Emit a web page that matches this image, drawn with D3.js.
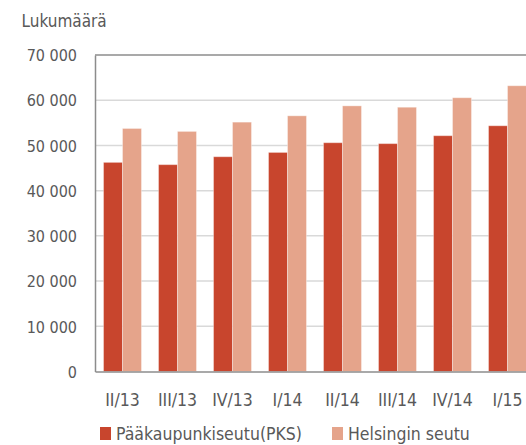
<!DOCTYPE html>
<html>
<head>
<meta charset="utf-8">
<script src="https://cdn.jsdelivr.net/npm/d3@7"></script>
<style>
  body { margin: 0; background: #fff; }
  svg text { font-family: "DejaVu Sans Condensed", "DejaVu Sans", sans-serif; font-stretch: condensed; fill: #595959; }
</style>
</head>
<body>
<div id="chart"></div>
<script>
// data
var quarters = ["II/13", "III/13", "IV/13", "I/14", "II/14", "III/14", "IV/14", "I/15"];
var seriesNames = ["Pääkaupunkiseutu(PKS)", "Helsingin seutu"];
var pks = [46250, 45750, 47500, 48450, 50600, 50400, 52150, 54350];
var helsinki = [53750, 53100, 55150, 56550, 58750, 58450, 60550, 63200];
var yTicks = [0, 10000, 20000, 30000, 40000, 50000, 60000, 70000];
var colors = ["#c8452d", "#e5a48b"];

var width = 526, height = 445;
var margin = {top: 55, right: -9, bottom: 73.5, left: 95};
var plotW = width - margin.left - margin.right,
    plotH = height - margin.top - margin.bottom;

var fi = d3.formatLocale({decimal: ",", thousands: "\u00a0", grouping: [3], currency: ["", ""]});
var fmt = fi.format(",");

var svg = d3.select("#chart")
  .append("svg")
    .attr("width", width)
    .attr("height", height);

var canvas = svg.append("g")
    .attr("transform", "translate(" + margin.left + "," + margin.top + ")");

var x0 = d3.scaleBand()
  .domain(quarters)
  .range([0, plotW])
  .paddingInner(0.31)
  .paddingOuter(0.155);

var x1 = d3.scaleBand()
  .domain(seriesNames)
  .range([0, x0.bandwidth()]);

var y = d3.scaleLinear()
  .domain([0, 70000])
  .range([plotH, 0]);

// gridlines
canvas.selectAll("grid")
  .data(yTicks.slice(1, -1))
  .enter()
  .append("line")
    .attr("x1", 0)
    .attr("x2", plotW)
    .attr("y1", d => y(d))
    .attr("y2", d => y(d))
    .attr("stroke", "#d9d9d9")
    .attr("stroke-width", 1.5);

// top border
canvas.append("line")
  .attr("x1", 0).attr("x2", plotW)
  .attr("y1", y(70000)).attr("y2", y(70000))
  .attr("stroke", "#8c8c8c")
  .attr("stroke-width", 1.5);

// bars
var rows = quarters.map((q, i) => ({q: q, vals: [pks[i], helsinki[i]]}));

var groups = canvas.selectAll("mygroup")
  .data(rows)
  .enter()
  .append("g")
    .attr("transform", d => "translate(" + x0(d.q) + ",0)");

groups.selectAll("rect")
  .data(d => d.vals.map((v, j) => ({name: seriesNames[j], value: v, color: colors[j]})))
  .enter()
  .append("rect")
    .attr("x", d => x1(d.name))
    .attr("y", d => y(d.value))
    .attr("width", x1.bandwidth())
    .attr("height", d => plotH - y(d.value))
    .attr("fill", d => d.color)
    .attr("stroke", "#fff")
    .attr("stroke-opacity", 0.35)
    .attr("stroke-width", 1);

// y axis
var yAxis = canvas.append("g")
  .call(d3.axisLeft(y).tickValues(yTicks).tickFormat(fmt).tickSize(0).tickPadding(18));
yAxis.select(".domain").attr("stroke", "#8c8c8c").attr("stroke-width", 1.5);
yAxis.selectAll("text").style("font-size", "16px").attr("dy", "0.36em");

// x axis
var xAxis = canvas.append("g")
  .attr("transform", "translate(0," + plotH + ")")
  .call(d3.axisBottom(x0).tickSize(0).tickPadding(22));
xAxis.select(".domain").attr("stroke", "#8c8c8c").attr("stroke-width", 1.5);
xAxis.selectAll("text").style("font-size", "17.5px").attr("dy", "0.71em");

// y title
svg.append("text")
  .attr("x", 21.5)
  .attr("y", 26.5)
  .style("font-size", "17px")
  .text("Lukumäärä");

// legend
var legendX = [100, 332];
var legend = svg.selectAll("legend")
  .data(seriesNames)
  .enter()
  .append("g")
    .attr("transform", (d, i) => "translate(" + legendX[i] + ",427)");

legend.append("rect")
  .attr("width", 11)
  .attr("height", 13)
  .attr("fill", (d, i) => colors[i]);

legend.append("text")
  .attr("x", 16)
  .attr("y", 13)
  .style("font-size", "17.5px")
  .text(d => d);
</script>
</body>
</html>
